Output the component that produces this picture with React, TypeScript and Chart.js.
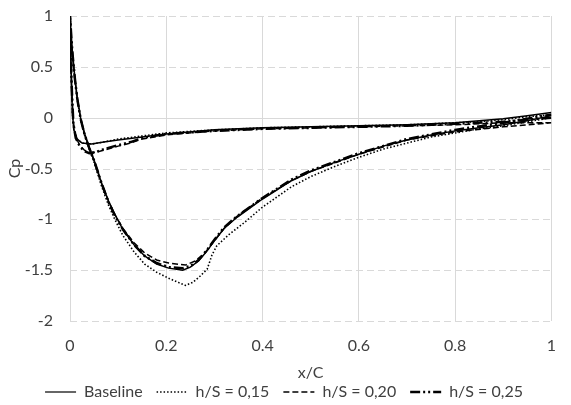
import React, { useEffect, useRef } from "react";
import { Chart, registerables } from "chart.js";

Chart.register(...registerables);

// ---- data (x/C, Cp) ----
const baselineX = [1.0, 0.95, 0.9, 0.85, 0.8, 0.7, 0.6, 0.5, 0.4, 0.3, 0.2, 0.15, 0.1, 0.07, 0.045, 0.025, 0.015, 0.008, 0.005, 0.003, 0.001, 0.0,
  0.002, 0.005, 0.01, 0.015, 0.022, 0.03, 0.04, 0.05, 0.066, 0.08, 0.093, 0.11, 0.133, 0.155, 0.18, 0.205, 0.234, 0.25, 0.267, 0.285, 0.3, 0.32, 0.347, 0.4, 0.46, 0.5, 0.55, 0.6, 0.65, 0.7, 0.75, 0.8, 0.85, 0.9, 0.95, 1.0];
const baselineCp = [0.05, 0.02, -0.01, -0.03, -0.05, -0.07, -0.08, -0.09, -0.1, -0.12, -0.16, -0.19, -0.22, -0.24, -0.26, -0.25, -0.21, -0.12, 0.05, 0.35, 0.7, 1.0,
  0.85, 0.65, 0.4, 0.2, 0.0, -0.15, -0.29, -0.42, -0.65, -0.82, -0.95, -1.1, -1.25, -1.36, -1.44, -1.48, -1.5, -1.47, -1.41, -1.31, -1.21, -1.09, -0.98, -0.8, -0.62, -0.53, -0.44, -0.36, -0.28, -0.22, -0.17, -0.13, -0.1, -0.07, -0.03, 0.02];

const hs015X = [1.0, 0.95, 0.9, 0.85, 0.8, 0.7, 0.6, 0.5, 0.4, 0.3, 0.2, 0.15, 0.1, 0.07, 0.045, 0.025, 0.015, 0.008, 0.005, 0.003, 0.001, 0.0,
  0.002, 0.005, 0.01, 0.015, 0.022, 0.03, 0.04, 0.05, 0.066, 0.08, 0.093, 0.11, 0.133, 0.155, 0.18, 0.205, 0.225, 0.24, 0.255, 0.27, 0.285, 0.295, 0.305, 0.33, 0.36, 0.4, 0.46, 0.5, 0.55, 0.6, 0.65, 0.7, 0.75, 0.8, 0.85, 0.9, 0.95, 1.0];
const hs015Cp = [0.03, 0.01, -0.02, -0.04, -0.05, -0.07, -0.08, -0.09, -0.1, -0.12, -0.15, -0.18, -0.21, -0.24, -0.26, -0.25, -0.21, -0.12, 0.05, 0.35, 0.7, 1.0,
  0.85, 0.62, 0.38, 0.18, -0.02, -0.17, -0.31, -0.44, -0.68, -0.86, -1.0, -1.16, -1.32, -1.44, -1.52, -1.58, -1.62, -1.65, -1.62, -1.56, -1.49, -1.35, -1.26, -1.15, -1.04, -0.88, -0.68, -0.58, -0.48, -0.39, -0.31, -0.25, -0.19, -0.15, -0.11, -0.08, -0.04, 0.0];

const hs020X = [1.0, 0.95, 0.9, 0.8, 0.7, 0.6, 0.5, 0.4, 0.3, 0.2, 0.15, 0.126, 0.1, 0.07, 0.053, 0.04, 0.03, 0.02, 0.012, 0.007, 0.004, 0.001, 0.0,
  0.002, 0.005, 0.01, 0.015, 0.022, 0.03, 0.04, 0.05, 0.066, 0.08, 0.093, 0.11, 0.133, 0.155, 0.18, 0.205, 0.24, 0.26, 0.28, 0.3, 0.32, 0.347, 0.4, 0.46, 0.5, 0.6, 0.7, 0.8, 0.9, 0.95, 1.0];
const hs020Cp = [-0.05, -0.05, -0.05, -0.07, -0.08, -0.09, -0.1, -0.11, -0.13, -0.17, -0.21, -0.25, -0.28, -0.32, -0.34, -0.34, -0.32, -0.27, -0.19, -0.05, 0.25, 0.7, 1.0,
  0.85, 0.63, 0.38, 0.19, -0.01, -0.16, -0.3, -0.42, -0.65, -0.82, -0.95, -1.09, -1.23, -1.33, -1.4, -1.43, -1.45, -1.41, -1.33, -1.21, -1.09, -0.97, -0.79, -0.62, -0.53, -0.36, -0.22, -0.14, -0.09, -0.07, -0.05];

const hs025X = [1.0, 0.95, 0.9, 0.8, 0.7, 0.6, 0.5, 0.4, 0.3, 0.2, 0.15, 0.126, 0.1, 0.07, 0.053, 0.04, 0.03, 0.02, 0.012, 0.007, 0.004, 0.001, 0.0,
  0.002, 0.005, 0.01, 0.015, 0.022, 0.03, 0.04, 0.05, 0.066, 0.08, 0.093, 0.11, 0.133, 0.155, 0.18, 0.205, 0.234, 0.25, 0.267, 0.285, 0.3, 0.32, 0.347, 0.4, 0.46, 0.5, 0.6, 0.7, 0.8, 0.9, 0.95, 1.0];
const hs025Cp = [0.0, -0.02, -0.04, -0.06, -0.08, -0.09, -0.1, -0.11, -0.13, -0.16, -0.2, -0.24, -0.27, -0.31, -0.34, -0.35, -0.33, -0.28, -0.2, -0.06, 0.25, 0.7, 1.0,
  0.85, 0.64, 0.39, 0.19, -0.01, -0.16, -0.3, -0.42, -0.65, -0.83, -0.96, -1.1, -1.25, -1.36, -1.43, -1.47, -1.48, -1.46, -1.4, -1.3, -1.2, -1.08, -0.97, -0.79, -0.61, -0.52, -0.35, -0.21, -0.12, -0.05, -0.01, 0.03];

const seriesNames = ["Baseline", "h/S = 0,15", "h/S = 0,20", "h/S = 0,25"];

const xTickValues = [0, 0.2, 0.4, 0.6, 0.8, 1];
const xTickLabels = ["0", "0.2", "0.4", "0.6", "0.8", "1"];
const yTickValues = [-2, -1.5, -1, -0.5, 0, 0.5, 1];
const yTickLabels = ["-2", "-1.5", "-1", "-0.5", "0", "0.5", "1"];

const xTitle = "x/C";
const yTitle = "Cp";

const toPoints = (xs: number[], ys: number[]) => xs.map((x, i) => ({ x, y: ys[i] }));

const TEXT = "#404040";
const GRID = "#d9d9d9";
const FONT = { family: "Lato", size: 16 };

const lineStyles = [
  { dash: [] as number[], width: 1.5, legendWidth: 1.2 },
  { dash: [1.5, 2], width: 1.6, legendWidth: 1.4 },
  { dash: [6, 3], width: 1.5, legendWidth: 1.4 },
  { dash: [10, 3, 2, 3, 2, 3], width: 2.5, legendWidth: 2.5 },
];

// horizontal grid: dashed lines, solid line at 0 (horizontal axis crossing)
const yGrid = {
  id: "yGrid",
  beforeDatasetsDraw(chart: any) {
    const { ctx, chartArea, scales } = chart;
    ctx.save();
    ctx.strokeStyle = GRID;
    ctx.lineWidth = 1;
    yTickValues.forEach((v) => {
      const py = Math.round(scales.y.getPixelForValue(v)) + 0.5;
      ctx.setLineDash(v === 0 ? [] : [7, 4]);
      ctx.beginPath();
      ctx.moveTo(chartArea.left, py);
      ctx.lineTo(chartArea.right, py);
      ctx.stroke();
    });
    ctx.restore();
  },
};

export default function App() {
  const ref = useRef<HTMLCanvasElement>(null);
  useEffect(() => {
    document.body.style.margin = "0";
    const sets = [
      toPoints(baselineX, baselineCp),
      toPoints(hs015X, hs015Cp),
      toPoints(hs020X, hs020Cp),
      toPoints(hs025X, hs025Cp),
    ];
    const chart = new Chart(ref.current!, {
      type: "scatter",
      data: {
        datasets: sets.map((d, i) => ({
          label: seriesNames[i],
          data: d,
          showLine: true,
          borderColor: "#000000",
          backgroundColor: "#000000",
          borderWidth: lineStyles[i].width,
          borderDash: lineStyles[i].dash,
          pointRadius: 0,
          pointHoverRadius: 0,
          tension: 0,
          fill: false,
        })),
      },
      options: {
        responsive: false,
        animation: false,
        devicePixelRatio: 1,
        layout: { padding: { top: 16, right: 3, left: 0, bottom: -5 } },
        font: FONT,
        plugins: {
          tooltip: { enabled: false },
          legend: {
            display: true,
            position: "bottom",
            labels: {
              usePointStyle: true,
              pointStyle: "line",
              pointStyleWidth: 31,
              padding: 14,
              color: TEXT,
              font: FONT,
              generateLabels: (c: any) =>
                c.data.datasets.map((ds: any, i: number) => ({
                  text: ds.label,
                  fillStyle: "rgba(0,0,0,0)",
                  strokeStyle: "#000000",
                  lineWidth: lineStyles[i].legendWidth,
                  lineDash: lineStyles[i].dash,
                  lineCap: "butt",
                  pointStyle: "line",
                  hidden: false,
                  datasetIndex: i,
                  fontColor: TEXT,
                })),
            },
          },
        },
        scales: {
          x: {
            type: "linear",
            min: 0,
            max: 1,
            afterBuildTicks: (s: any) => {
              s.ticks = xTickValues.map((v) => ({ value: v }));
            },
            afterFit: (s: any) => {
              s.height = 49;
            },
            ticks: {
              color: TEXT,
              font: FONT,
              padding: 15,
              maxRotation: 0,
              callback: (_v: any, i: number) => xTickLabels[i],
            },
            grid: { color: GRID, lineWidth: 1, drawTicks: false },
            border: { display: false },
            title: {
              display: true,
              text: xTitle,
              color: TEXT,
              font: FONT,
              padding: { top: 0, bottom: -12 },
            },
          },
          y: {
            type: "linear",
            min: -2,
            max: 1,
            afterBuildTicks: (s: any) => {
              s.ticks = yTickValues.map((v) => ({ value: v }));
            },
            afterFit: (s: any) => {
              s.width = 70;
              s.paddingTop = 0;
              s.paddingBottom = 0;
            },
            ticks: {
              color: TEXT,
              font: FONT,
              padding: 17,
              callback: (_v: any, i: number) => yTickLabels[i],
            },
            grid: { display: false, drawTicks: false },
            border: { display: true, color: GRID, width: 1 },
            title: {
              display: true,
              text: yTitle,
              color: TEXT,
              font: FONT,
              padding: { top: 5, bottom: 0 },
            },
          },
        },
      },
      plugins: [yGrid],
    });
    return () => chart.destroy();
  }, []);
  return (
    <div style={{ width: 571, height: 405 }}>
      <canvas ref={ref} width={571} height={405} style={{ width: 571, height: 405, display: "block" }} />
    </div>
  );
}
